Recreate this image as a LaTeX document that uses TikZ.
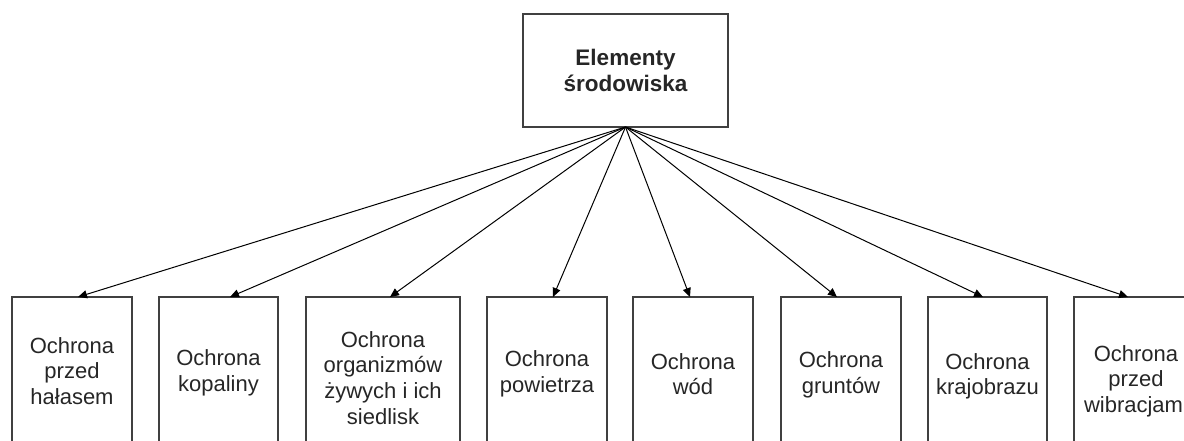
\documentclass[tikz,border=0pt]{standalone}
\usepackage{fontspec}
\setmainfont{Liberation Sans}
\usetikzlibrary{arrows.meta}
\begin{document}
\begin{tikzpicture}[x=1pt,y=-1pt,
  box/.style={draw=black!75,line width=1.6pt,rectangle,inner sep=0pt,outer sep=0pt},
  lab/.style={align=center,inner sep=0pt,text=black!85,font=\fontsize{22}{25.6}\selectfont},
  link/.style={draw=black,line width=1pt,-{Triangle[length=9pt,width=8pt]}}]
\clip (0,0) rectangle (1184,441);
\useasboundingbox (0,0) rectangle (1184,441);

% root
\node[box,minimum width=205pt,minimum height=113pt,align=center,
      font=\fontsize{22.5}{25.6}\selectfont\bfseries,text=black!85]
  (top) at (625.5,70.5) {Elementy\\środowiska};

% children (open at the bottom edge)
\node[box,minimum width=120pt,minimum height=163pt] (b1) at (72,378.5) {};
\node[box,minimum width=119pt,minimum height=163pt] (b2) at (218.5,378.5) {};
\node[box,minimum width=154pt,minimum height=163pt] (b3) at (383,378.5) {};
\node[box,minimum width=120pt,minimum height=163pt] (b4) at (547,378.5) {};
\node[box,minimum width=120pt,minimum height=163pt] (b5) at (693,378.5) {};
\node[box,minimum width=120pt,minimum height=163pt] (b6) at (841,378.5) {};
\node[box,minimum width=119pt,minimum height=163pt] (b7) at (987.5,378.5) {};
\node[box,minimum width=120pt,minimum height=163pt] (b8) at (1134,378.5) {};

% labels
\node[lab] (t1) at (72,370.8) {Ochrona\\przed\\hałasem};
\node[lab] (t2) at (218.5,372.8) {Ochrona\\kopaliny};
\node[lab] (t3) at (383,377.8) {Ochrona\\organizmów\\żywych i ich\\siedlisk};
\node[lab] (t4) at (547,373.8) {Ochrona\\powietrza};
\node[lab] (t5) at (693,374.3) {Ochrona\\wód};
\node[lab] (t6) at (841,374.8) {Ochrona\\gruntów};
\node[lab] (t7) at (987.5,376.3) {Ochrona\\krajobrazu};
\node[lab] (t8) at (1136,381.3) {Ochrona\\przed\\wibracjami};

% connectors
\draw[link] (top.south) -- ([xshift=6pt]b1.north);
\draw[link] (top.south) -- ([xshift=11.5pt]b2.north);
\draw[link] (top.south) -- ([xshift=7pt]b3.north);
\draw[link] (top.south) -- ([xshift=6pt]b4.north);
\draw[link] (top.south) -- ([xshift=-3pt]b5.north);
\draw[link] (top.south) -- ([xshift=-4pt]b6.north);
\draw[link] (top.south) -- ([xshift=-4.5pt]b7.north);
\draw[link] (top.south) -- ([xshift=-6pt]b8.north);
\end{tikzpicture}
\end{document}
